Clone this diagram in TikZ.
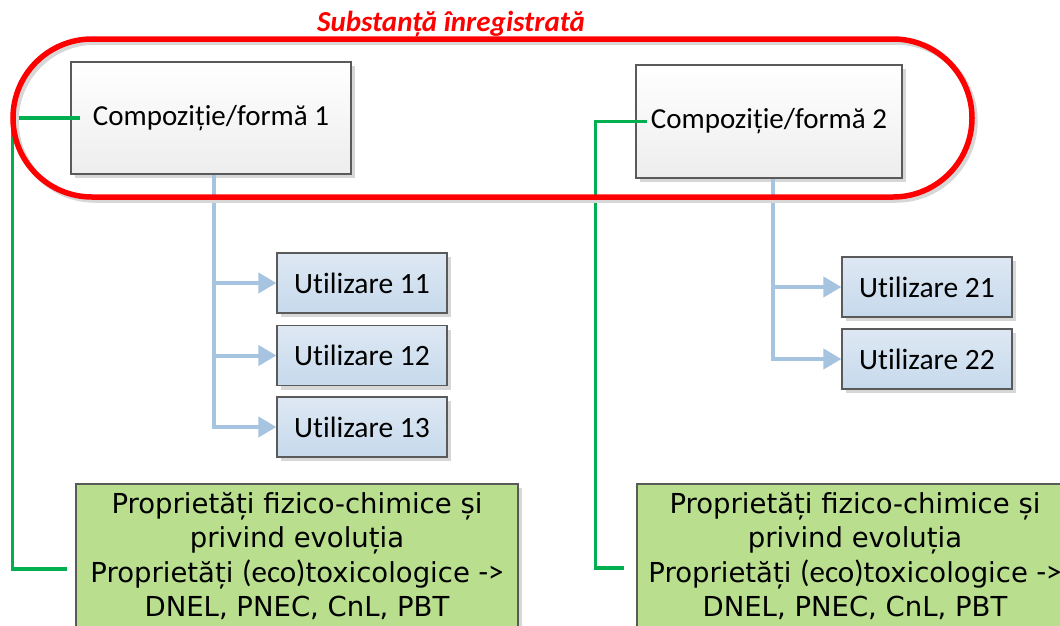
\documentclass[tikz,border=0pt]{standalone}
\usepackage{fontspec}
\setmainfont{Carlito}[Ligatures=NoCommon]
\newfontfamily\verd{DejaVu Sans}
\newfontfamily\carl{Carlito}[Ligatures=NoCommon]
\usetikzlibrary{arrows.meta,shadows}
\definecolor{redline}{RGB}{255,0,0}
\definecolor{boxline}{RGB}{90,90,90}
\definecolor{greenfill}{RGB}{184,222,142}
\definecolor{greenline}{RGB}{0,176,80}
\definecolor{bluetop}{RGB}{222,232,243}
\definecolor{bluebot}{RGB}{198,217,236}
\definecolor{blueline}{RGB}{166,195,223}
\definecolor{shadowgrey}{RGB}{215,215,215}
\tikzset{
  boxshadow/.style={general shadow={fill=shadowgrey, shadow xshift=4pt, shadow yshift=-4pt}},
  formbox/.style={draw=boxline, line width=1.2pt, top color=white, bottom color=black!7,
    minimum width=280pt, minimum height=112pt, inner sep=0pt, boxshadow,
    font=\fontsize{29}{34}\selectfont},
  usebox/.style={draw=boxline, line width=1.2pt, top color=bluetop, bottom color=bluebot,
    minimum width=170pt, minimum height=60pt, inner sep=0pt, boxshadow,
    font=\fontsize{29.5}{33}\selectfont},
  propbox/.style={draw=boxline, line width=1.2pt, fill=greenfill, align=center,
    inner sep=0pt, boxshadow, font=\verd\fontsize{27.5}{34.5}\selectfont},
  greenconn/.style={draw=greenline, line width=3.5pt},
  blueconn/.style={draw=blueline, line width=4pt, -{Triangle[length=18pt,width=20pt]}},
  redframe/.style={draw=redline, line width=5.5pt, rounded corners=79pt},
  titletext/.style={text=redline, font=\bfseries\itshape\fontsize{29}{34}\selectfont, inner sep=0pt}
}
\newcommand{\ecofont}{\carl\fontsize{31}{34.5}\selectfont}
\begin{document}
\begin{tikzpicture}[x=1pt,y=-1pt]
\useasboundingbox (0,0) rectangle (1060,625);
\clip (0,0) rectangle (1060,625);
\fill[white] (0,0) rectangle (1060,625);

% title
\node[titletext, anchor=base] (title) at (451,31) {Substanță înregistrată};

% main boxes
\node[formbox] (c1) at (211,118) {Compoziție/formă 1};
\node[formbox, minimum width=266pt, minimum height=113pt] (c2) at (769,121.5) {Compoziție/formă 2};

% use boxes
\node[usebox] (u11) at (362,283) {Utilizare 11};
\node[usebox] (u12) at (362,355.5) {Utilizare 12};
\node[usebox] (u13) at (362,427) {Utilizare 13};
\node[usebox] (u21) at (927,287) {Utilizare 21};
\node[usebox] (u22) at (927,359) {Utilizare 22};

% property boxes
\node[propbox, minimum width=442pt, minimum height=144pt] (g1) at (297,556)
  {Proprietăți fizico-chimice și\\privind evoluția\\Proprietăți {\ecofont(eco)}toxicologice {\ecofont->}\\DNEL, PNEC, CnL, PBT};
\node[propbox, minimum width=436pt, minimum height=144pt] (g2) at (855,556)
  {Proprietăți fizico-chimice și\\privind evoluția\\Proprietăți {\ecofont(eco)}toxicologice {\ecofont->}\\DNEL, PNEC, CnL, PBT};

% green connectors
\draw[greenconn] ([xshift=10pt]c1.west) -- ++(-68,0) |- ([xshift=-8pt,yshift=-13pt]g1.west);
\draw[greenconn] ([xshift=12pt]c2.west) -- ++(-52,0) |- ([xshift=-12pt,yshift=-12pt]g2.west);

% blue connectors
\draw[blueconn] ([xshift=3pt]c1.south) |- (u11.west);
\draw[blueconn] ([xshift=3pt]c1.south) |- (u12.west);
\draw[blueconn] ([xshift=3pt]c1.south) |- (u13.west);
\draw[blueconn] ([xshift=4pt]c2.south) |- (u21.west);
\draw[blueconn] ([xshift=4pt]c2.south) |- (u22.west);

% red frame with shadow
\draw[redframe, draw=shadowgrey] (16,42) rectangle (975,200);
\draw[redframe] (13,39) rectangle (972,197);
\end{tikzpicture}
\end{document}
